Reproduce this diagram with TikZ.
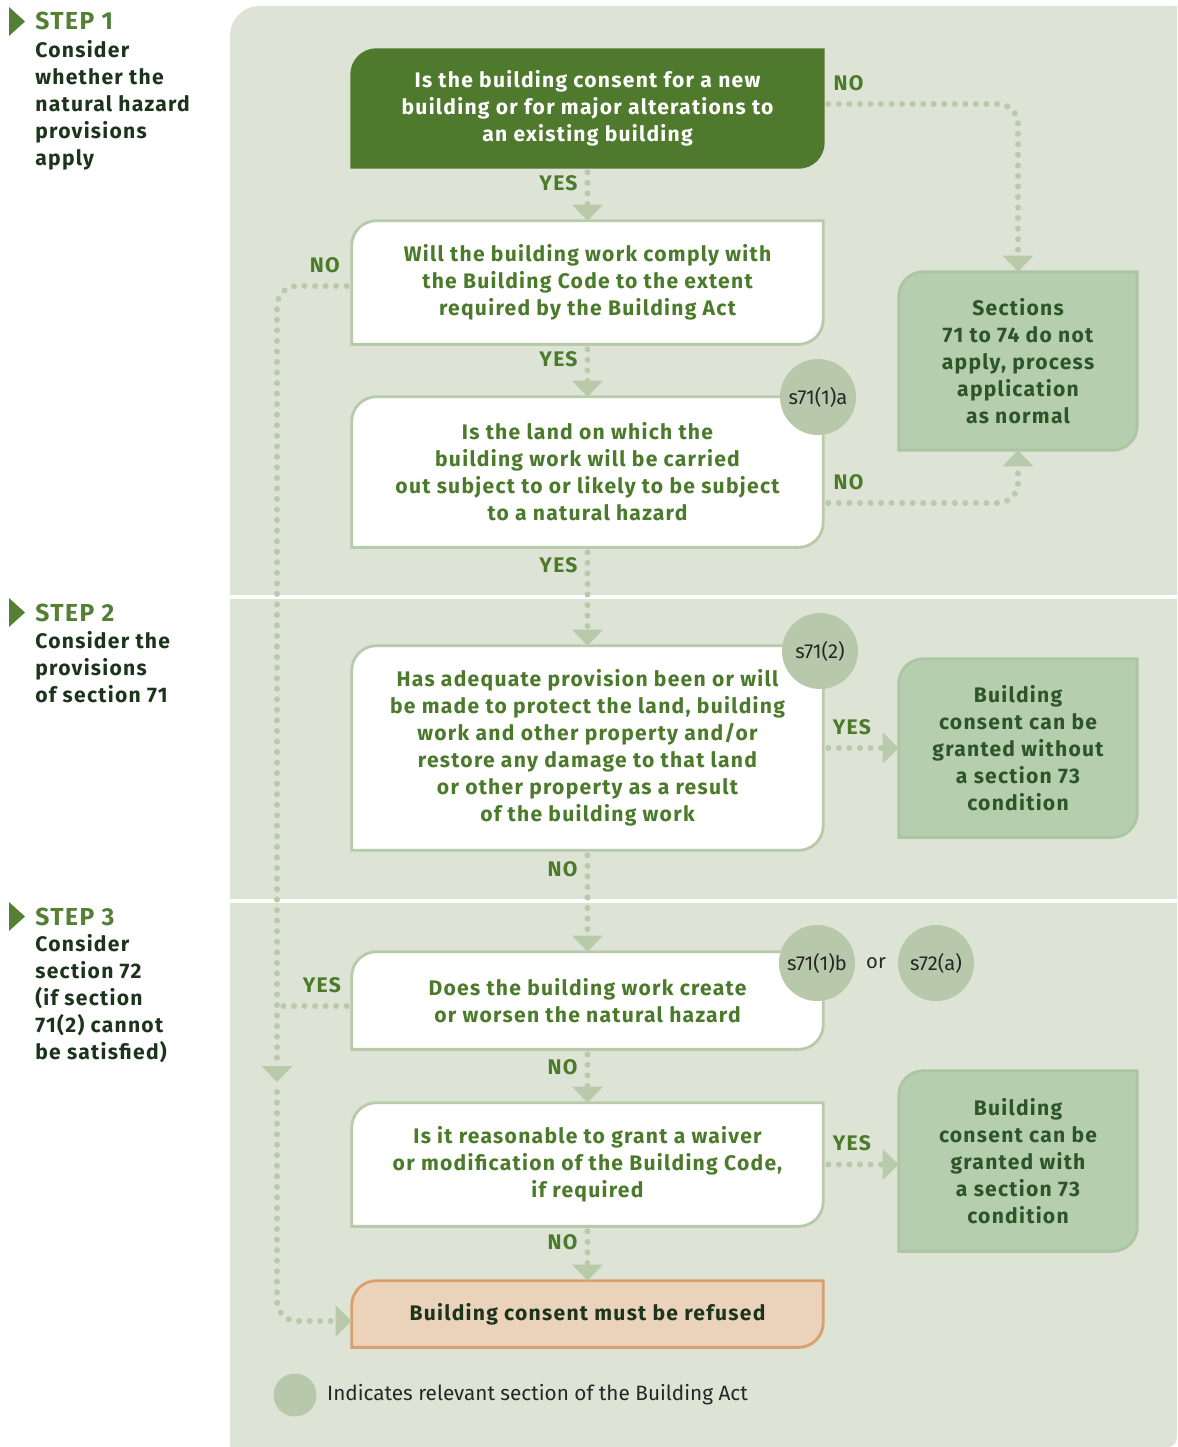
\documentclass[tikz,border=0pt]{standalone}
\usepackage{fontspec}
\setmainfont{Fira Sans}[BoldFeatures={LetterSpace=6}]
\usetikzlibrary{positioning,arrows.meta}

\definecolor{panel}{RGB}{221,228,214}
\definecolor{darkbox}{RGB}{79,122,46}
\definecolor{qtext}{RGB}{74,122,42}
\definecolor{qedge}{RGB}{183,203,171}
\definecolor{okfill}{RGB}{181,207,174}
\definecolor{okedge}{RGB}{172,198,163}
\definecolor{oktext}{RGB}{45,85,40}
\definecolor{dotgreen}{RGB}{184,202,170}
\definecolor{sectfill}{RGB}{184,200,170}
\definecolor{nofill}{RGB}{234,211,186}
\definecolor{noedge}{RGB}{217,160,110}
\definecolor{deeptext}{RGB}{28,52,28}
\definecolor{stepgreen}{RGB}{84,128,54}

\pgfdeclarelayer{back}
\pgfdeclarelayer{shapes}
\pgfsetlayers{back,shapes,main}

% box with rounded top left and bottom right corners
\newcommand{\leafbox}[3]{%
  \filldraw[fill=#2, draw=#3, line width=1.6pt]
    (#1.south west) -- ([yshift=-0.5cm]#1.north west)
    .. controls ([yshift=-0.22cm]#1.north west) and ([xshift=0.22cm]#1.north west) .. ([xshift=0.5cm]#1.north west)
    -- (#1.north east) -- ([yshift=0.5cm]#1.south east)
    .. controls ([yshift=0.22cm]#1.south east) and ([xshift=-0.22cm]#1.south east) .. ([xshift=-0.5cm]#1.south east)
    -- cycle;}

\begin{document}
\begin{tikzpicture}[x=0.02cm, y=-0.02cm]
    % Stili
    \tikzstyle{question}=[align=center, minimum width=9.42cm, inner sep=0pt, text=qtext, font=\bfseries\fontsize{12}{15.4}\selectfont]
    \tikzstyle{outcome}=[align=center, minimum width=4.76cm, minimum height=3.56cm, inner sep=0pt, text=oktext, font=\bfseries\fontsize{12}{15.4}\selectfont]
    \tikzstyle{sect}=[circle, fill=sectfill, minimum size=1.52cm, inner sep=0pt, text=black!85, font=\fontsize{11.5}{13}\selectfont]
    \tikzstyle{lbl}=[text=qtext, inner sep=2pt, font=\bfseries\fontsize{12}{13}\selectfont]
    \tikzstyle{stephead}=[anchor=west, inner sep=0pt, text=stepgreen, font=\bfseries\fontsize{14}{15}\selectfont]
    \tikzstyle{steptxt}=[anchor=north west, align=left, inner sep=0pt, text=deeptext, font=\bfseries\fontsize{12}{15.4}\selectfont]
    \tikzstyle{link}=[draw=dotgreen, line width=3.4pt, dash pattern=on 0pt off 6pt, line cap=round, rounded corners=0.4cm, shorten <=0.1cm, -{Triangle[width=0.6cm, length=0.32cm]}]

    \useasboundingbox (0,0) rectangle (1177,1447);

    % Sfondo a bande
    \begin{pgfonlayer}{back}
        \fill[panel] (230,1447) -- (230,36) .. controls (230,19) and (243,6) .. (260,6) -- (1177,6) -- (1177,1437) .. controls (1177,1443) and (1173,1447) .. (1167,1447) -- cycle;
        \draw[white, line width=0.07cm] (230,597) -- (1177,597);
        \draw[white, line width=0.07cm] (230,901) -- (1177,901);
    \end{pgfonlayer}

    % Passi a sinistra
    \fill[stepgreen] (9,7) -- (9,36) -- (25,21.5) -- cycle;
    \node[stephead] (step1) at (35,21) {STEP 1};
    \node[steptxt] (step1txt) at (35,40) {Consider\\whether the\\natural hazard\\provisions\\apply};

    \fill[stepgreen] (9,598) -- (9,627) -- (25,612.5) -- cycle;
    \node[stephead] (step2) at (35,613) {STEP 2};
    \node[steptxt] (step2txt) at (35,631) {Consider the\\provisions\\of section 71};

    \fill[stepgreen] (9,902) -- (9,931) -- (25,916.5) -- cycle;
    \node[stephead] (step3) at (35,917) {STEP 3};
    \node[steptxt] (step3txt) at (35,934) {Consider\\section 72\\(if section\\71(2) cannot\\be satisfied)};

    % Domande
    \node[question, text=white, minimum height=2.34cm] (q1) at (587.5,108.5) {Is the building consent for a new\\building or for major alterations to\\an existing building};
    \node[question, minimum height=2.46cm] (q2) at (587.5,282.5) {Will the building work comply with\\the Building Code to the extent\\required by the Building Act};
    \node[question, minimum height=3.0cm] (q3) at (587.5,472) {Is the land on which the\\building work will be carried\\out subject to or likely to be subject\\to a natural hazard};
    \node[question, minimum height=4.08cm] (q4) at (587.5,748) {Has adequate provision been or will\\be made to protect the land, building\\work and other property and/or\\restore any damage to that land\\or other property as a result\\of the building work};
    \node[question, minimum height=1.94cm] (q5) at (587.5,1000.5) {Does the building work create\\or worsen the natural hazard};
    \node[question, minimum height=2.46cm] (q6) at (587.5,1164.5) {Is it reasonable to grant a waiver\\or modification of the Building Code,\\if required};
    \node[question, text=deeptext, minimum height=1.32cm] (refuse) at (587.5,1314) {Building consent must be refused};

    % Esiti
    \node[outcome] (r1) at (1018,361) {Sections\\71 to 74 do not\\apply, process\\application\\as normal};
    \node[outcome] (r2) at (1018,748) {Building\\consent can be\\granted without\\a section 73\\condition};
    \node[outcome, minimum height=3.6cm] (r3) at (1018,1161) {Building\\consent can be\\granted with\\a section 73\\condition};

    \begin{pgfonlayer}{shapes}
        \leafbox{q1}{darkbox}{darkbox}
        \leafbox{q2}{white}{qedge}
        \leafbox{q3}{white}{qedge}
        \leafbox{q4}{white}{qedge}
        \leafbox{q5}{white}{qedge}
        \leafbox{q6}{white}{qedge}
        \leafbox{refuse}{nofill}{noedge}
        \leafbox{r1}{okfill}{okedge}
        \leafbox{r2}{okfill}{okedge}
        \leafbox{r3}{okfill}{okedge}
    \end{pgfonlayer}

    % Sezioni della legge
    \node[sect] (s711a) at (818,397) {s71(1)a};
    \node[sect] (s712) at (820,651) {s71(2)};
    \node[sect] (s711b) at (817,963) {s71(1)b};
    \node[text=black!85, font=\fontsize{11.5}{13}\selectfont] (or) at (876,963) {or};
    \node[sect] (s72a) at (936,963) {s72(a)};

    % Collegamenti
    \draw[link] (q1.south) -- node[lbl, pos=0.3, left=2pt] {YES} (q2.north);
    \draw[link] (q2.south) -- node[lbl, pos=0.28, left=2pt] {YES} (q3.north);
    \draw[link] (q3.south) -- node[lbl, pos=0.18, left=2pt] {YES} (q4.north);
    \draw[link] (q4.south) -- node[lbl, pos=0.19, left=2pt] {NO} (q5.north);
    \draw[link] (q5.south) -- node[lbl, pos=0.33, left=2pt] {NO} (q6.north);
    \draw[link] (q6.south) -- node[lbl, pos=0.29, left=2pt] {NO} (refuse.north);

    \draw[link] ([yshift=0.09cm]q1.east) -| node[lbl, pos=0.065, above=4pt] {NO} (r1.north);
    \draw[link] ([yshift=-0.62cm]q3.east) -| node[lbl, pos=0.065, above=4pt] {NO} (r1.south);
    \draw[link] (q4.east) -- node[lbl, pos=0.38, above=4pt] {YES} (r2.west);
    \draw[link] (q6.east) -- node[lbl, pos=0.38, above=4pt] {YES} (q6.east -| r3.west);

    \coordinate (lmid) at (277,1082);
    \draw[link] ([yshift=-0.07cm]q2.west) -| node[lbl, pos=0.18, above=4pt] {NO} (lmid);
    \draw[link, shorten <=0.2cm] (lmid) |- ([yshift=-0.14cm]refuse.west);
    \draw[link, -] ([yshift=-0.11cm]q5.west) -- node[lbl, pos=0.4, above=4pt] {YES} ([yshift=-0.11cm]q5.west -| lmid);

    % Legenda
    \node[circle, fill=sectfill, minimum size=0.86cm, inner sep=0pt] (legdot) at (295,1395) {};
    \node[right=0.2cm of legdot, inner sep=0pt, text=black!85, font=\fontsize{11.8}{14}\selectfont] (legend) {Indicates relevant section of the Building Act};
\end{tikzpicture}
\end{document}
